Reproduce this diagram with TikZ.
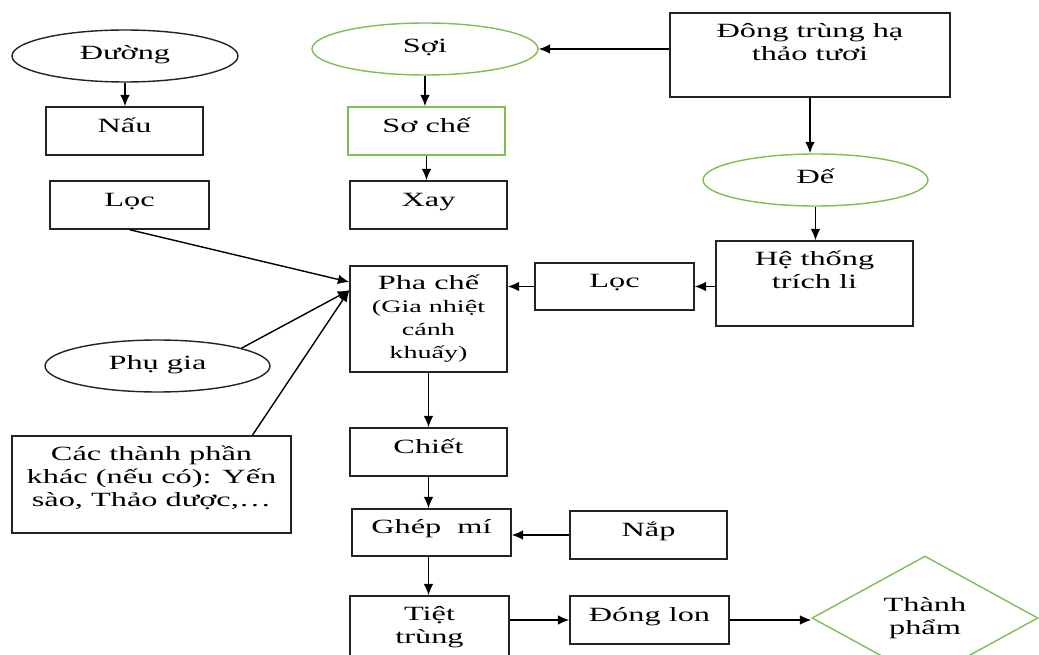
\documentclass[tikz,border=0pt]{standalone}
\usepackage{fontspec}
\setmainfont{Liberation Serif}[FakeStretch=1.6]
\usetikzlibrary{arrows,arrows.meta,shapes,positioning}
\definecolor{Leaf}{RGB}{125,190,85}
\definecolor{Ink}{RGB}{35,35,35}
\newcommand{\sm}{\fontsize{10}{13.1}\selectfont}
\tikzset{box/.style ={
        rectangle,
        draw=Ink,
        line width=.8pt,
        inner sep=0pt,
        align=center,
        minimum width=3.16cm,
        minimum height=.96cm,
        text height=7pt,
        text depth=5.3pt
    },
    greenbox/.style={
        box,
        draw=Leaf
    },
    oval/.style ={
        ellipse,
        draw=Ink,
        line width=.8pt,
        inner sep=0pt,
        minimum width=4.52cm,
        minimum height=1.04cm,
        text height=8pt,
        text depth=4pt
    },
    greenoval/.style={
        oval,
        draw=Leaf
    },
    finish/.style ={
        diamond,
        draw=Leaf,
        line width=.8pt,
        inner sep=0pt,
        align=center,
        minimum width=4.52cm,
        minimum height=2.44cm
    },
    toptext/.style 2 args={
        label={[anchor=north,align=center,inner sep=0pt,yshift=-#1]north:{#2}}
    }}
\begin{document}
\begin{tikzpicture}
    [
    x=.02cm, y=-.02cm,
    font=\fontsize{11.5}{13.1}\selectfont,
    a/.style={
        -{Latex[length=6.5pt,width=5.5pt]},
        draw=black,
        line width=.8pt
    }
    ]
    \useasboundingbox (0,0) rectangle (1039,655);
    % sugar side
    \node (duong)[oval] at (125,56) {Đường};
    \node (nau)[box,minimum width=3.14cm] at (124.5,131) {Nấu};
    \node (loc1)[box,minimum width=3.18cm] at (129.5,205) {Lọc};
    \node (phugia)[oval,minimum width=4.5cm] at (157.5,366) {Phụ gia};
    \node (cac)[box,minimum width=5.58cm,minimum height=1.94cm,
        toptext={.2cm}{Các thành phần\\khác (nếu có): Yến\\sào, Thảo dược,\dots}] at (151.5,484.5) {};
    
    % fibre side
    \node (soi)[greenoval] at (425,49) {Sợi};
    \node (soche)[greenbox,minimum width=3.14cm] at (426.5,131) {Sơ chế};
    \node (xay)[box,minimum width=3.14cm] at (428.5,205) {Xay};
    
    % fresh cordyceps
    \node (dong)[box,minimum width=5.6cm,minimum height=1.68cm,
        toptext={.21cm}{Đông trùng hạ\\thảo tươi}] at (810,55) {};
    \node (de)[greenoval,minimum width=4.5cm] at (815.5,180) {Đế};
    \node (hethong)[box,minimum width=3.94cm,minimum height=1.7cm,
        toptext={.2cm}{Hệ thống\\trích li}] at (814.5,283.5) {};
    \node (loc2)[box,minimum width=3.18cm,minimum height=.94cm] at (614.5,286.5) {Lọc};
    
    % main line
    \node (phache)[box,minimum width=3.14cm,minimum height=2.12cm,text height=,text depth=]
        at (428.5,319) {Pha chế\\{\sm(Gia nhiệt}\\{\sm cánh}\\{\sm khuấy)}};
    \node (chiet)[box,minimum width=3.14cm] at (428.5,452) {Chiết};
    \node (ghep)[box,minimum width=3.18cm,minimum height=.94cm] at (431.5,532.5) {Ghép~~mí};
    \node (nap)[box,minimum width=3.14cm,minimum height=.96cm] at (648.5,535) {Nắp};
    \node (tiet)[box,minimum width=3.18cm,minimum height=1.4cm,
        toptext={.22cm}{Tiệt\\trùng}] at (429.5,631) {};
    \node (donglon)[box,minimum width=3.18cm,minimum height=.96cm] at (649.5,620) {Đóng lon};
    \node (thanh)[finish] at (925,618) {Thành\\phẩm};
    
    \draw[a] (duong) -- (duong |- nau.north);
    \draw[a] (soi) -- (soi |- soche.north);
    \draw[a] (soche) -- (soche |- xay.north);
    \draw[a] (dong.west |- soi) -- (soi);
    \draw[a] (dong) -- (dong |- de.north);
    \draw[a] (de) -- (de |- hethong.north);
    \draw[a] (hethong.west |- loc2) -- (loc2);
    \draw[a] (loc2) -- (loc2 -| phache.east);
    
    \draw[a] (loc1.south) -- (phache.155);
    \draw[a] (phugia.12) -- (phache.160);
    \draw[a] (cac.26) -- (phache.160);
    
    \draw[a] (phache) -- (phache |- chiet.north);
    \draw[a] (chiet) -- (chiet |- ghep.north);
    \draw[a] (nap) -- (nap -| ghep.east);
    \draw[a] (ghep.south -| chiet) -- (chiet |- tiet.north);
    \draw[a] (tiet.east |- donglon) -- (donglon);
    \draw[a] (donglon) -- (donglon -| thanh.west);
    
\end{tikzpicture}
\end{document}
